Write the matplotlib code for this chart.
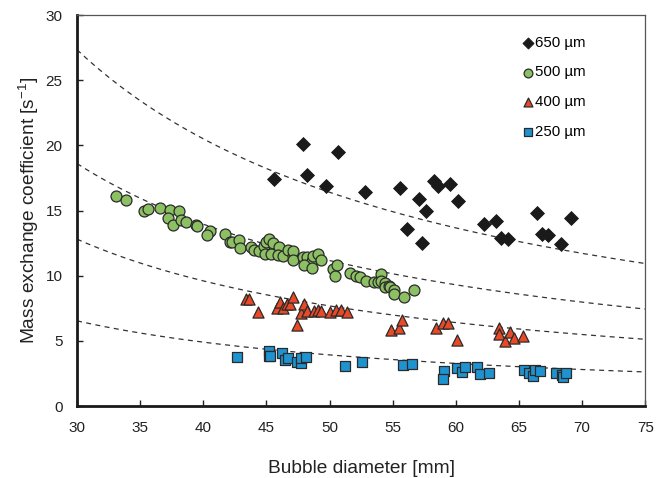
import numpy as np
import matplotlib
matplotlib.use('Agg')
import matplotlib.pyplot as plt

plt.rcParams['font.family'] = ['Liberation Sans', 'DejaVu Sans']
plt.rcParams['mathtext.fontset'] = 'custom'
plt.rcParams['mathtext.rm'] = 'Liberation Sans'

# 650 um
d650 = [45.6, 47.9, 48.2, 49.7, 50.7, 52.8, 55.6, 56.1, 57.1, 57.3, 57.6,
        58.3, 58.6, 59.5, 60.2, 62.2, 63.2, 63.6, 64.1, 66.4, 66.8, 67.3,
        68.3, 69.1]
k650 = [17.4, 20.1, 17.7, 16.9, 19.5, 16.4, 16.7, 13.6, 15.9, 12.5, 15.0,
        17.3, 16.9, 17.0, 15.7, 14.0, 14.2, 12.9, 12.8, 14.8, 13.2, 13.1,
        12.4, 14.4]

# 500 um
d500 = [33.1, 33.9, 35.3, 35.6, 36.6, 37.4, 38.1, 37.2, 37.6, 38.2, 38.6,
        39.4, 39.5, 40.5, 40.3, 41.7, 42.1, 42.3, 42.8, 42.9, 43.8, 44.0,
        44.4, 44.8, 45.0, 45.2, 45.5, 46.0, 44.9, 45.4, 45.9, 46.3, 46.7,
        47.1, 47.1, 47.1, 47.9, 48.2, 48.6, 48.7, 49.1, 49.3, 48.0, 48.6,
        50.3, 50.6, 50.4, 51.6, 52.1, 52.4, 52.9, 53.5, 53.8, 54.1, 54.1,
        54.4, 54.4, 54.7, 54.8, 55.1, 55.1, 55.9, 56.7]
k500 = [16.1, 15.8, 15.0, 15.1, 15.2, 15.05, 15.0, 14.4, 13.9, 14.3, 14.1,
        13.9, 13.8, 13.4, 13.1, 13.2, 12.6, 12.6, 12.7, 12.1, 12.2, 11.95,
        11.9, 12.25, 12.6, 12.8, 12.5, 12.2, 11.7, 11.7, 11.6, 11.5, 12.0,
        11.5, 11.9, 11.2, 11.4, 11.4, 11.15, 11.5, 11.7, 11.2, 10.8, 10.6,
        10.5, 10.8, 10.0, 10.2, 10.0, 9.9, 9.6, 9.5, 9.5, 10.1, 9.6,
        9.4, 9.1, 9.2, 9.1, 8.9, 8.6, 8.4, 8.9]

# 400 um
d400 = [43.4, 43.6, 44.3, 45.8, 46.1, 46.3, 46.6, 46.9, 47.1, 47.4, 47.7,
        48.0, 48.2, 48.8, 49.1, 49.3, 50.0, 50.5, 50.9, 51.4, 54.9, 55.5,
        55.7, 58.4, 59.0, 59.4, 60.1, 63.4, 63.4, 63.9, 64.3, 64.6, 65.3]
k400 = [8.2, 8.2, 7.2, 7.5, 8.0, 7.5, 7.8, 7.8, 8.4, 6.25, 7.1,
        7.8, 7.3, 7.3, 7.4, 7.3, 7.25, 7.4, 7.4, 7.2, 5.85, 6.0,
        6.6, 6.0, 6.4, 6.35, 5.1, 6.0, 5.5, 5.0, 5.7, 5.2, 5.4]

# 250 um
d250 = [42.7, 45.2, 45.2, 45.3, 46.2, 46.5, 46.7, 47.4, 47.7, 47.7, 48.1,
        51.2, 52.6, 55.8, 56.5, 59.1, 59.0, 60.1, 60.5, 60.7, 61.7, 61.9,
        62.6, 65.4, 65.8, 66.1, 66.3, 66.7, 67.9, 68.4, 68.5, 68.7]
k250 = [3.75, 4.2, 3.85, 3.8, 4.1, 3.5, 3.7, 3.4, 3.3, 3.7, 3.75,
        3.1, 3.4, 3.15, 3.2, 2.65, 2.05, 2.9, 2.6, 3.0, 3.0, 2.45,
        2.55, 2.75, 2.5, 2.3, 2.75, 2.7, 2.55, 2.4, 2.25, 2.55]

# dashed trend lines k = c / d
fit_coef = [820, 558, 384, 196]

fig = plt.figure(figsize=(6.7, 4.78), dpi=100)
ax = fig.add_axes([0.115, 0.1506, 0.848, 0.818])

dd = np.linspace(30, 75, 200)
for c in fit_coef:
    ax.plot(dd, c / dd, color='#333333', lw=0.9, ls=(0, (4, 3.5)), zorder=1)

edge = '#2a2a2a'
ax.scatter(d650, k650, marker='D', s=50, color='#1a1a1a', edgecolor='#1a1a1a',
           lw=0.6, zorder=3, label='650 µm')
ax.scatter(d500, k500, marker='o', s=62, color='#8cc063', edgecolor=edge,
           lw=0.9, zorder=3, label='500 µm')
ax.scatter(d400, k400, marker='^', s=64, color='#e84a27', edgecolor=edge,
           lw=0.9, zorder=3, label='400 µm')
ax.scatter(d250, k250, marker='s', s=58, color='#1f93cf', edgecolor=edge,
           lw=0.9, zorder=3, label='250 µm')

ax.set_xlim(30, 75)
ax.set_ylim(0, 30)
ax.set_xticks(np.arange(30, 76, 5))
ax.set_yticks(np.arange(0, 31, 5))
ax.tick_params(direction='in', length=4, width=1, labelsize=11,
               colors='#222222')
ax.tick_params(axis='y', pad=10.5)
ax.tick_params(axis='x', pad=11)
for side in ['left', 'bottom']:
    ax.spines[side].set_linewidth(2)
    ax.spines[side].set_color('#1a1a1a')
for side in ['top', 'right']:
    ax.spines[side].set_linewidth(0.9)
    ax.spines[side].set_color('#555555')

ax.set_xlabel('Bubble diameter [mm]', fontsize=13.8, color='#222222',
              labelpad=18)
ax.set_ylabel(r'Mass exchange coefficient [s$^{\mathregular{-1}}$]',
              fontsize=13.8, color='#222222', labelpad=3)

leg = ax.legend(loc='upper left', bbox_to_anchor=(0.781, 0.947), frameon=False,
                fontsize=10.8, labelspacing=1.05, handletextpad=0.05,
                handlelength=0.9, markerscale=0.8, borderpad=0,
                borderaxespad=0)

fig.savefig('out.png', dpi=100)
